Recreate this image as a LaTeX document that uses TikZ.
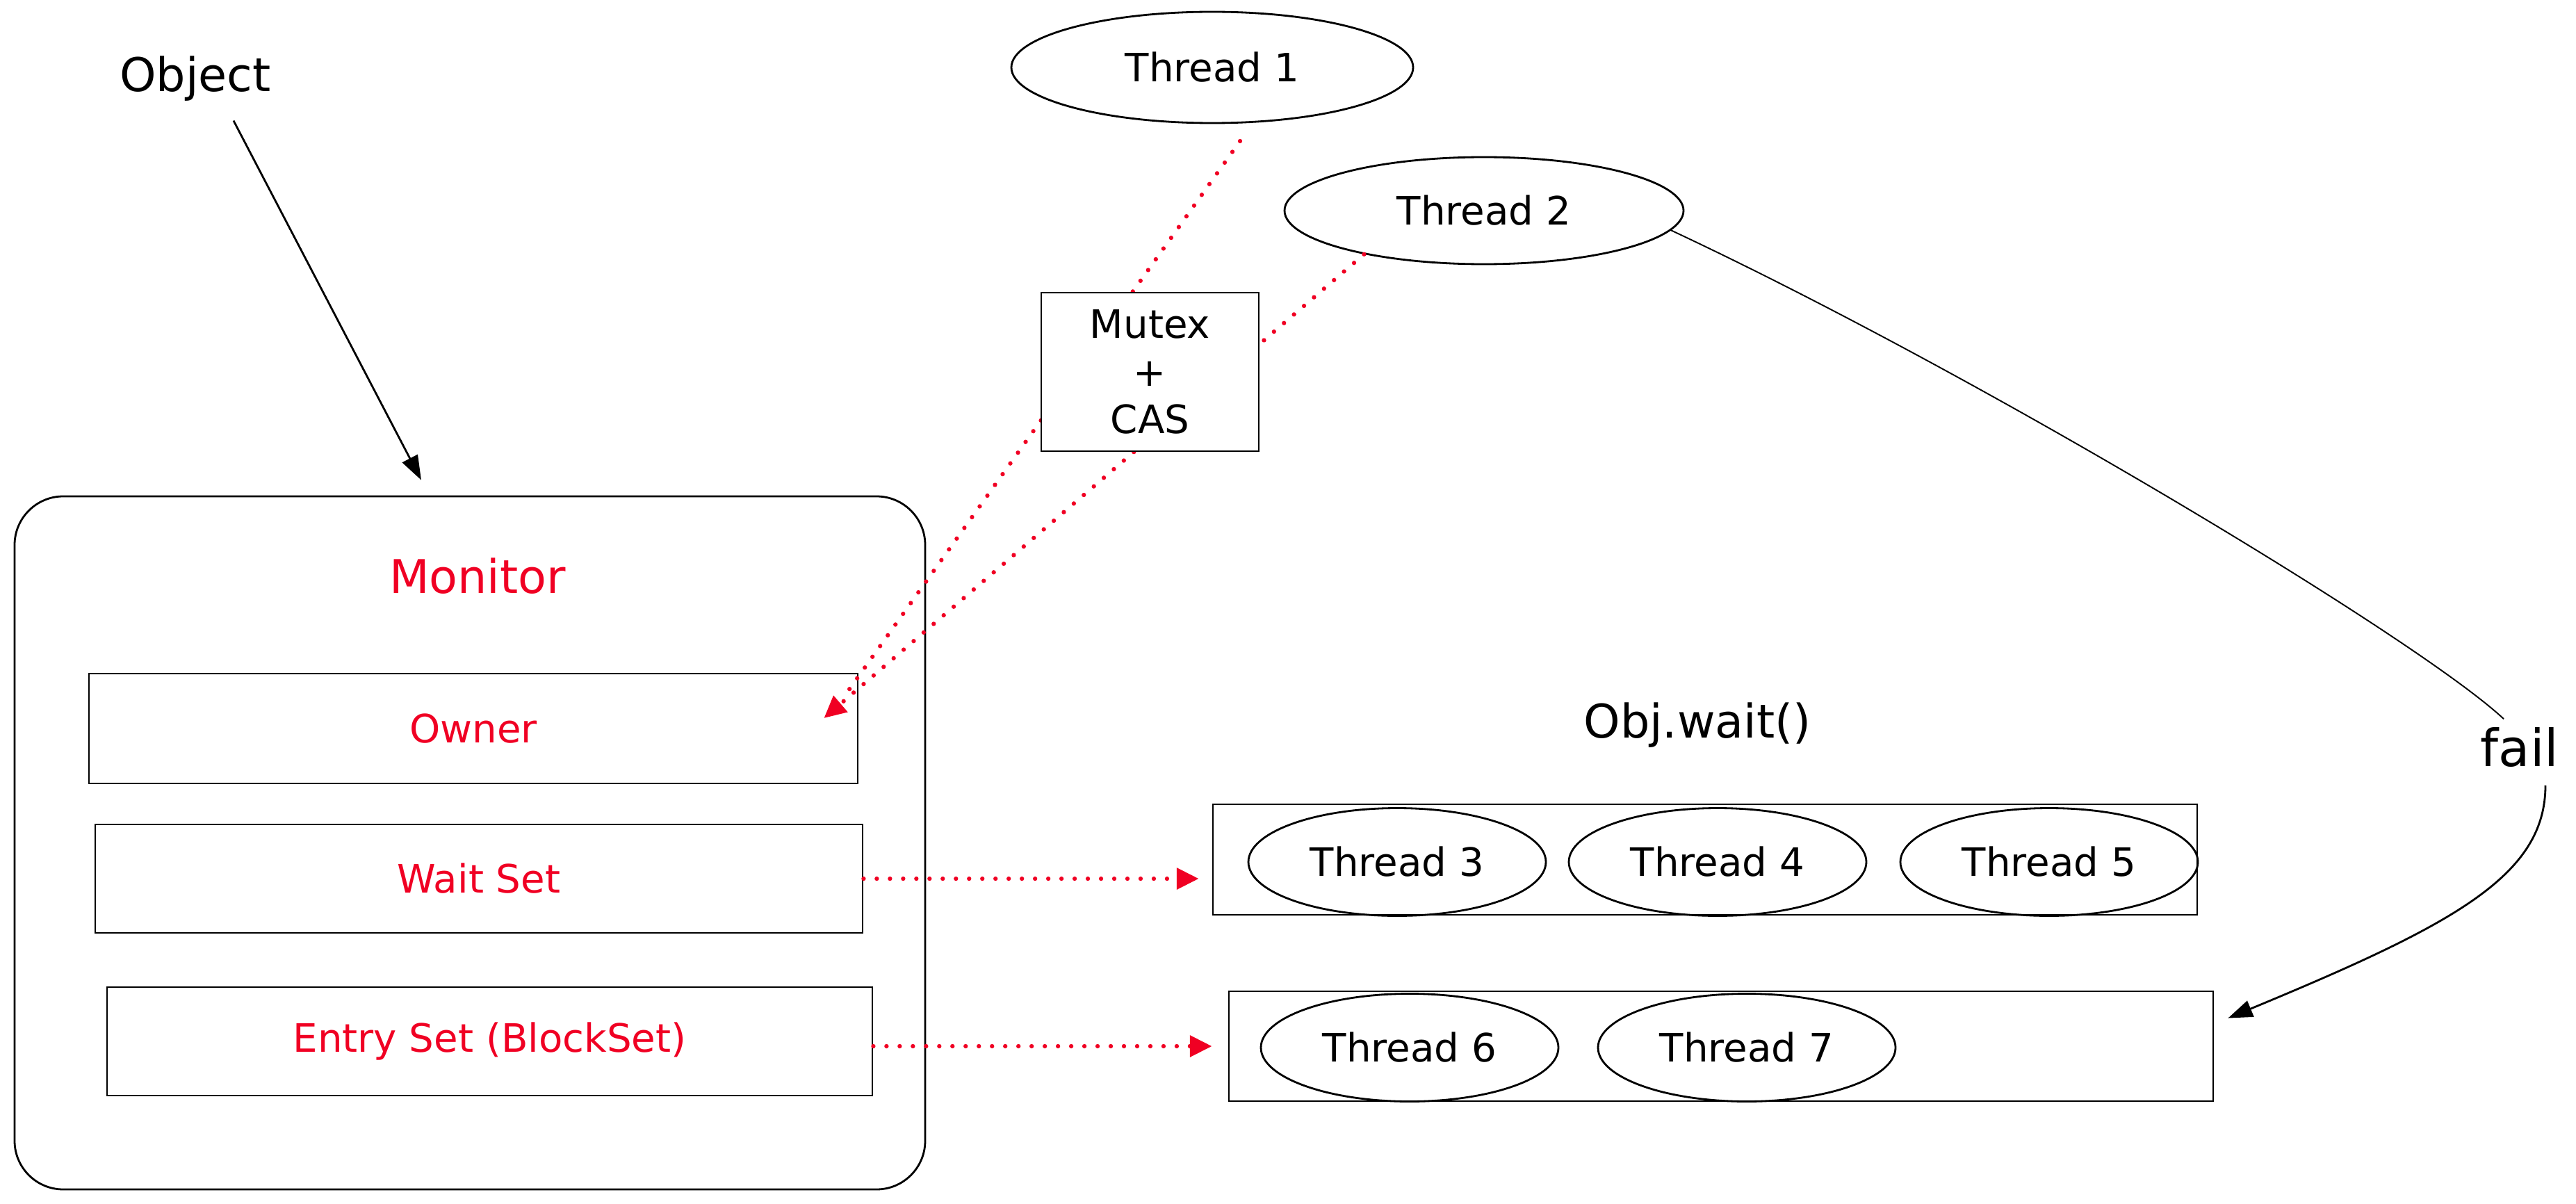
\documentclass[tikz,border=0pt]{standalone}
\usepackage{fontspec}
\setmainfont{DejaVu Sans}
\usetikzlibrary{arrows.meta,shapes.geometric}
\definecolor{monred}{HTML}{F00023}
\tikzset{
	box/.style={draw, line width=0.8pt, inner sep=0pt},
	thread/.style={draw, ellipse, line width=0.8pt, inner sep=0pt, minimum width=4.28cm, minimum height=1.55cm, font=\fontsize{16}{19.5}\selectfont},
	tag/.style={inner sep=0pt, font=\fontsize{19}{23}\selectfont},
	redlbl/.style={text=monred, font=\fontsize{16}{19.5}\selectfont},
	reddot/.style={monred, line width=1.8pt, line cap=round, dash pattern=on 0pt off 5.4pt, -{Triangle[length=9pt,width=8.5pt]}},
	blk/.style={line width=0.8pt, -{Triangle[length=10pt,width=7pt]}}
}

\begin{document}
\begin{tikzpicture}
	\useasboundingbox (0,0) rectangle (37.06,-17.32);
	\node[tag, anchor=base] (object) at (2.81,-1.32) {Object};
	\node[box, rounded corners=0.7cm, minimum width=13.1cm, minimum height=9.97cm] (monitor) at (6.76,-12.125) {};
	\node[tag, anchor=base, text=monred] (montitle) at (6.87,-8.53) {Monitor};
	\node[box, redlbl, minimum width=11.06cm, minimum height=1.58cm] (owner) at (6.81,-10.48) {Owner};
	\node[box, redlbl, minimum width=11.04cm, minimum height=1.56cm] (waitset) at (6.89,-12.64) {Wait Set};
	\node[box, redlbl, minimum width=11.01cm, minimum height=1.56cm] (entryset) at (7.045,-14.98) {Entry Set (BlockSet)};
	\node[thread, minimum width=5.78cm, minimum height=1.6cm] (t1) at (17.44,-0.97) {Thread 1};
	\node[thread, minimum width=5.74cm, minimum height=1.54cm] (t2) at (21.35,-3.03) {Thread 2};
	\node[tag, anchor=base] (waitcall) at (24.42,-10.61) {Obj.wait()};
	\node[box, minimum width=14.16cm, minimum height=1.59cm] (waitq) at (24.53,-12.365) {};
	\node[box, minimum width=14.16cm, minimum height=1.58cm] (entryq) at (24.76,-15.05) {};
	\foreach \n/\x in {3/20.10,4/24.71,5/29.48}
		\node[thread] (t\n) at (\x,-12.40) {Thread \n};
	\foreach \n/\x in {6/20.28,7/25.13}
		\node[thread] (t\n) at (\x,-15.07) {Thread \n};
	\node[tag, anchor=base, font=\fontsize{21}{25}\selectfont] (fail) at (36.25,-11.02) {fail};
	\draw[reddot, -] ([shift={(0.40,-1.06)}]t1.center) -- ([shift={(-0.15,-0.26)}]owner.north east);
	\draw[reddot] (t2.200) -- ([shift={(-0.50,0.15)}]owner.east);
	\node[box, fill=white, align=center, font=\fontsize{16}{19.6}\selectfont, minimum width=3.13cm, minimum height=2.28cm] (mutex) at (16.545,-5.35) {Mutex\\+\\CAS};
	\draw[reddot, shorten >=0.19cm] (waitset.east) -- (waitset.east -| waitq.west);
	\draw[reddot, shorten >=0.23cm] (entryq.west -| entryset.east) -- (entryq.west);
	\draw[blk] ([shift={(0.55,-0.27)}]object.south) -- ([shift={(-0.70,0.22)}]monitor.north);
	\draw[line width=0.55pt] (t2.-6) .. controls (28.5,-5.4) and (34.8,-9.2) .. ([shift={(-0.23,0.11)}]fail.north);
	\draw[blk] ([shift={(0.37,-0.26)}]fail.south) .. controls (36.62,-12.6) and (35.3,-13.3) .. ([shift={(0.20,-0.40)}]entryq.north east);
\end{tikzpicture}
\end{document}
